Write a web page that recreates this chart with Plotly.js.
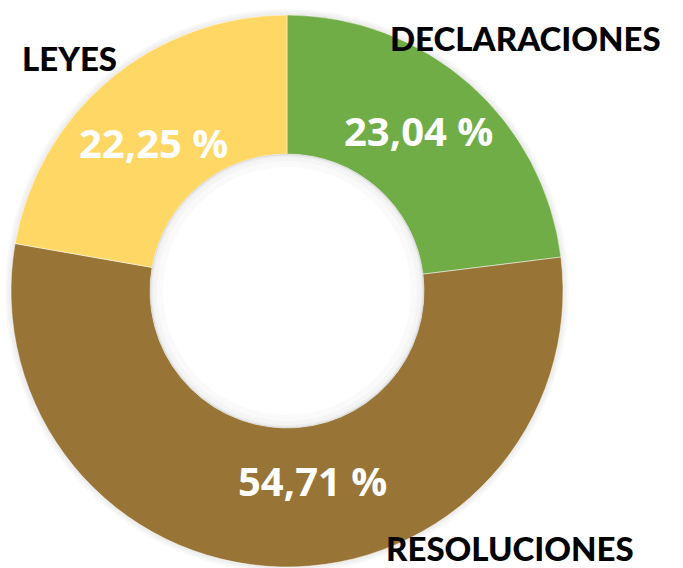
<!DOCTYPE html>
<html>
<head>
<meta charset="utf-8">
<script src="https://cdn.plot.ly/plotly-3.0.1.min.js"></script>
<style>html,body{margin:0;padding:0;background:#fff;}#chart{width:683px;height:568px;}</style>
</head>
<body>
<div id="chart"></div>
<script>
const categories = ["DECLARACIONES", "RESOLUCIONES", "LEYES"];
const values = [23.04, 54.71, 22.25];
const colors = ["#71AD47", "#987536", "#FED765"];

const W = 683, H = 568;
const cx = 287, cy = 291, R = 276, r = 137;
const px = x => x / W;
const py = y => 1 - y / H;

// label placements (pixels)
const pctPos = [[418, 131], [312, 480], [153, 142]];
const catPos = [[525, 38], [510, 548], [69, 58]];

const fmt = v => v.toFixed(2).replace(".", ",") + " %";

const annotations = [];
values.forEach((v, i) => {
  annotations.push({
    xref: "paper", yref: "paper", x: px(pctPos[i][0]), y: py(pctPos[i][1]),
    xanchor: "center", yanchor: "middle", showarrow: false, text: fmt(v),
    font: {family: "Open Sans", size: 40, color: "#ffffff", weight: 700}
  });
  annotations.push({
    xref: "paper", yref: "paper", x: px(catPos[i][0]), y: py(catPos[i][1]),
    xanchor: "center", yanchor: "middle", showarrow: false, text: categories[i],
    font: {family: "Lato", size: 33, color: "#000000", weight: 900}
  });
});

const shapes = [];
// soft outer shadow
[6, 4, 2].forEach((d) => {
  shapes.push({type: "circle", xref: "paper", yref: "paper", layer: "below",
    x0: px(cx - R - d), x1: px(cx + R + d), y0: py(cy + R + d), y1: py(cy - R - d),
    fillcolor: "rgba(0,0,0,0.025)", line: {width: 0}});
});
// inner hole with soft inner shadow
[[0, "#d9d9d9"], [1, "#eeeeee"], [3, "#f5f5f5"], [7, "#fafafa"], [13, "#ffffff"]].forEach(([d, c]) => {
  shapes.push({type: "circle", xref: "paper", yref: "paper", layer: "above",
    x0: px(cx - r + d), x1: px(cx + r - d), y0: py(cy + r - d), y1: py(cy - r + d),
    fillcolor: c, line: {width: 0}});
});

const trace = {
  type: "pie",
  labels: categories,
  values: values,
  sort: false,
  direction: "clockwise",
  rotation: 0,
  hole: r / R,
  textinfo: "none",
  hoverinfo: "label+percent",
  marker: {colors: colors, line: {color: "rgba(255,255,255,0.6)", width: 0.8}},
  domain: {x: [px(cx - R), px(cx + R)], y: [py(cy + R), py(cy - R)]}
};

const layout = {
  width: W, height: H,
  margin: {l: 0, r: 0, t: 0, b: 0},
  paper_bgcolor: "#ffffff",
  showlegend: false,
  annotations: annotations,
  shapes: shapes
};

Plotly.newPlot("chart", [trace], layout, {displayModeBar: false, staticPlot: true});
</script>
</body>
</html>
